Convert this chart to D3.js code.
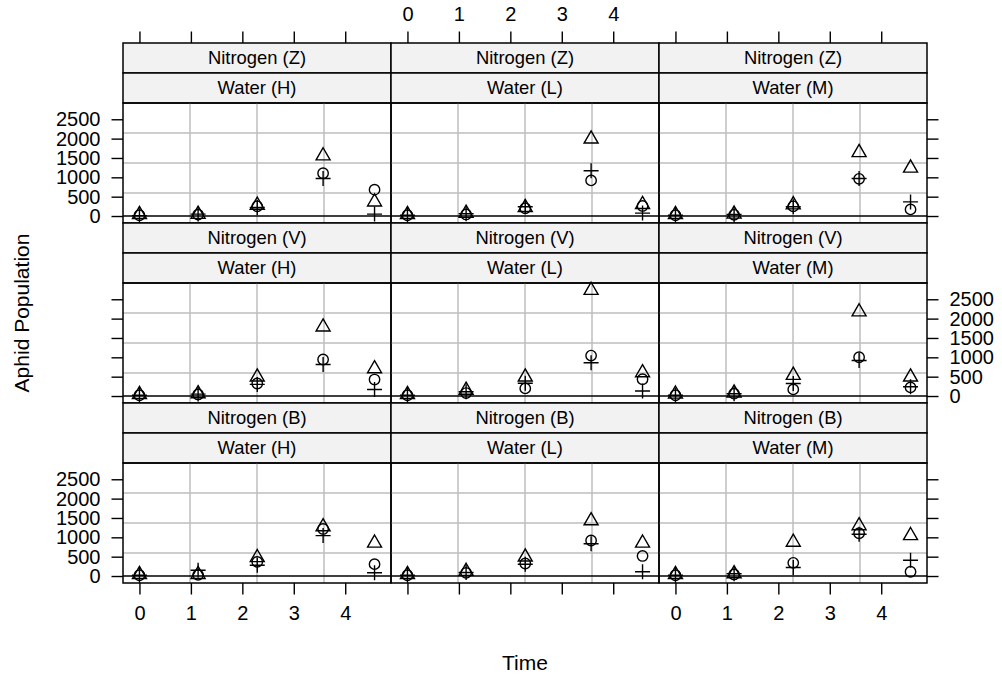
<!DOCTYPE html>
<html>
<head>
<meta charset="utf-8">
<script src="https://cdn.jsdelivr.net/npm/d3@7"></script>
<style>
  body { margin: 0; background: #fff; }
  text { font-family: "Liberation Sans", Arial, Helvetica, sans-serif; fill: #000; }
</style>
</head>
<body>
<div id="chart"></div>
<script>
// data: time (weeks) and aphid counts per block, one row per panel
const times = [0, 1.14, 2.29, 3.57, 4.57];
const nitrogenLevels = ["Z", "V", "B"];
const waterLevels = ["H", "L", "M"];
const xTicks = [0, 1, 2, 3, 4];
const yTicks = [0, 500, 1000, 1500, 2000, 2500];

// panel order: ZH, ZL, ZM, VH, VL, VM, BH, BL, BM
const block1 = [ // circle
  [20, 35, 250, 1105, 680],
  [20, 40, 200, 920, 260],
  [20, 30, 250, 960, 170],
  [20, 40, 324, 943, 426],
  [20, 75, 196, 1045, 434],
  [20, 60, 170, 1002, 222],
  [20, 30, 365, 1216, 306],
  [20, 80, 323, 918, 518],
  [20, 40, 340, 1105, 110]
];
const block2 = [ // plus
  [10, 50, 220, 970, 50],
  [20, 60, 240, 1170, 75],
  [20, 40, 240, 970, 365],
  [20, 50, 300, 816, 170],
  [20, 110, 330, 860, 128],
  [20, 60, 323, 918, 240],
  [20, 150, 280, 1045, 85],
  [20, 90, 306, 834, 110],
  [20, 60, 220, 1080, 408]
];
const block3 = [ // triangle
  [40, 45, 280, 1555, 365],
  [40, 70, 220, 1990, 300],
  [40, 50, 290, 1640, 1240],
  [40, 60, 492, 1785, 706],
  [40, 150, 492, 2730, 604],
  [50, 80, 535, 2175, 492],
  [40, 40, 476, 1275, 850],
  [40, 120, 492, 1428, 850],
  [40, 60, 875, 1300, 1045]
];

// layout
const margin = { top: 43, left: 123 };
const panelW = 268, panelH = 120, stripH = 30, rowH = 180;
const tickLen = 11.5, tickPad = 11;

const svg = d3.select("#chart").append("svg")
  .attr("width", 1002)
  .attr("height", 675);

const root = svg.append("g")
  .attr("transform", `translate(${margin.left}, ${margin.top})`);

// scales with 7% padding like lattice
const padded = ext => {
  const r = ext[1] - ext[0];
  return [ext[0] - 0.07 * r, ext[1] + 0.07 * r];
};
const allY = [block1, block2, block3].flat(2);
const x = d3.scaleLinear().domain(padded(d3.extent(times))).range([0, panelW]);
const y = d3.scaleLinear().domain(padded(d3.extent(allY))).range([panelH, 0]);

// symbol shapes
const shapes = [
  { data: block1, d: () => d3.symbol().type(d3.symbolCircle).size(Math.PI * 5.2 * 5.2)() },
  { data: block2, d: () => "M-7.5,0H7.5M0,-7.5V7.5" },
  { data: block3, d: () => "M0,-8.1L7,4.05L-7,4.05Z" }
];

nitrogenLevels.forEach((n, ni) => {
  waterLevels.forEach((w, wi) => {
    const p = ni * 3 + wi;
    const g = root.append("g")
      .attr("transform", `translate(${wi * panelW}, ${ni * rowH})`);

    // strips
    [`Nitrogen (${n})`, `Water (${w})`].forEach((label, si) => {
      g.append("rect")
        .attr("x", 0).attr("y", si * stripH)
        .attr("width", panelW).attr("height", stripH)
        .attr("fill", "#f2f2f2")
        .attr("stroke", "#000").attr("stroke-width", 1.5);
      g.append("text")
        .attr("x", panelW / 2).attr("y", si * stripH + stripH / 2)
        .attr("dy", "0.35em")
        .attr("text-anchor", "middle")
        .attr("font-size", 18.4)
        .text(label);
    });

    const panel = g.append("g").attr("transform", `translate(0, ${2 * stripH})`);

    // grid: 3 evenly spaced lines each way
    [0.25, 0.5, 0.75].forEach(f => {
      panel.append("line")
        .attr("x1", f * panelW).attr("x2", f * panelW)
        .attr("y1", 0).attr("y2", panelH)
        .attr("stroke", "#bebebe").attr("stroke-width", 1.5);
      panel.append("line")
        .attr("x1", 0).attr("x2", panelW)
        .attr("y1", f * panelH).attr("y2", f * panelH)
        .attr("stroke", "#bebebe").attr("stroke-width", 1.5);
    });

    // reference line at zero
    panel.append("line")
      .attr("x1", 0).attr("x2", panelW)
      .attr("y1", y(0)).attr("y2", y(0))
      .attr("stroke", "#000").attr("stroke-width", 1.5);

    // points
    shapes.forEach(s => {
      panel.selectAll(null)
        .data(s.data[p])
        .enter()
        .append("path")
        .attr("transform", (v, i) => `translate(${x(times[i])}, ${y(v)})`)
        .attr("d", s.d)
        .attr("fill", "none")
        .attr("stroke", "#000")
        .attr("stroke-width", 1.4);
    });

    // panel border
    panel.append("rect")
      .attr("width", panelW).attr("height", panelH)
      .attr("fill", "none")
      .attr("stroke", "#000").attr("stroke-width", 1.5);

    // axes (alternating labels)
    const styleAxis = sel => {
      sel.select(".domain").remove();
      sel.selectAll(".tick line").attr("stroke", "#000").attr("stroke-width", 1.4);
      sel.selectAll(".tick text").attr("font-size", 20).attr("fill", "#000");
      sel.attr("font-family", null);
    };
    if (ni === 0) {
      g.append("g")
        .call(d3.axisTop(x).tickValues(xTicks).tickSize(tickLen).tickPadding(tickPad)
          .tickFormat(wi === 1 ? d3.format("d") : () => ""))
        .call(styleAxis);
    }
    if (ni === 2) {
      panel.append("g")
        .attr("transform", `translate(0, ${panelH})`)
        .call(d3.axisBottom(x).tickValues(xTicks).tickSize(tickLen).tickPadding(tickPad)
          .tickFormat(wi !== 1 ? d3.format("d") : () => ""))
        .call(styleAxis);
    }
    if (wi === 0) {
      panel.append("g")
        .call(d3.axisLeft(y).tickValues(yTicks).tickSize(tickLen).tickPadding(tickPad)
          .tickFormat(ni !== 1 ? d3.format("d") : () => ""))
        .call(styleAxis);
    }
    if (wi === 2) {
      panel.append("g")
        .attr("transform", `translate(${panelW}, 0)`)
        .call(d3.axisRight(y).tickValues(yTicks).tickSize(tickLen).tickPadding(tickPad)
          .tickFormat(ni === 1 ? d3.format("d") : () => ""))
        .call(styleAxis);
    }
  });
});

// axis titles
svg.append("text")
  .attr("x", margin.left + 1.5 * panelW)
  .attr("y", 670)
  .attr("text-anchor", "middle")
  .attr("font-size", 21)
  .text("Time");

svg.append("text")
  .attr("transform", `translate(29, ${margin.top + 1.5 * rowH}) rotate(-90)`)
  .attr("text-anchor", "middle")
  .attr("font-size", 21)
  .text("Aphid Population");
</script>
</body>
</html>
